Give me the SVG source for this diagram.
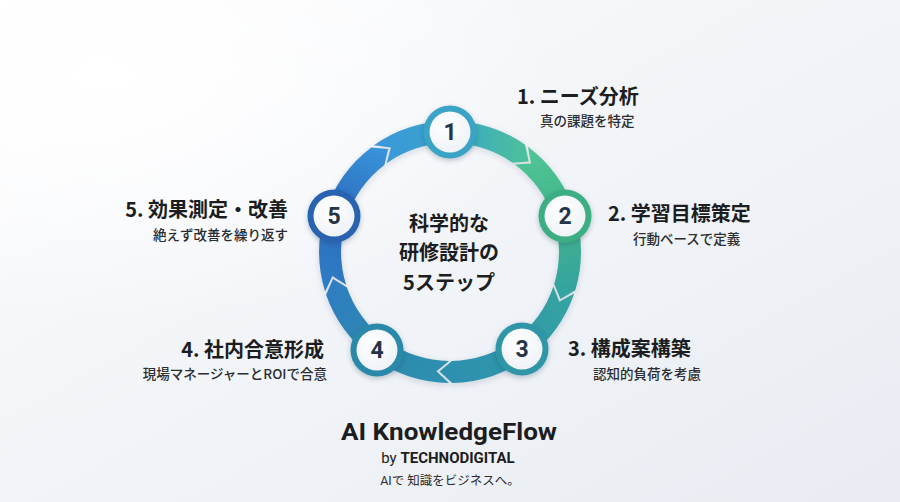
<svg xmlns="http://www.w3.org/2000/svg" width="900" height="502" viewBox="0 0 900 502">
<style>
.ttl{font-family:"Noto Sans CJK JP","Noto Sans",sans-serif;font-weight:700;font-size:20px;fill:#1c1d20}
.sub{font-family:"Noto Sans CJK JP","Noto Sans",sans-serif;font-weight:500;font-size:13.5px;fill:#2b2d31}
.num{font-family:Roboto,"Liberation Sans",sans-serif;font-weight:700;font-size:23px;fill:#253446;text-anchor:middle}
.ctr{font-family:"Noto Sans CJK JP","Noto Sans",sans-serif;font-weight:700;font-size:20px;fill:#1c1d20;text-anchor:middle}
.inner{fill:url(#wg)}
</style>
<defs>
<linearGradient id="bg" x1="0" y1="0" x2="1" y2="1">
<stop offset="0" stop-color="#ffffff"/>
<stop offset="0.3" stop-color="#f5f7fa"/>
<stop offset="1" stop-color="#e8ecf2"/>
</linearGradient>
<radialGradient id="glow" cx="0.12" cy="0.15" r="0.5">
<stop offset="0" stop-color="#ffffff" stop-opacity="1"/>
<stop offset="1" stop-color="#ffffff" stop-opacity="0"/>
</radialGradient>
<radialGradient id="wg" cx="0.4" cy="0.35" r="0.7">
<stop offset="0" stop-color="#ffffff"/>
<stop offset="1" stop-color="#eef2f6"/>
</radialGradient>
<linearGradient id="g1" gradientUnits="userSpaceOnUse" x1="374" y1="150" x2="528" y2="155">
<stop offset="0" stop-color="#3a96dc"/>
<stop offset="0.5" stop-color="#39a6c8"/>
<stop offset="1" stop-color="#4ec199"/>
</linearGradient>
<linearGradient id="g2" gradientUnits="userSpaceOnUse" x1="528" y1="150" x2="565" y2="292">
<stop offset="0" stop-color="#52c597"/>
<stop offset="0.5" stop-color="#42b58a"/>
<stop offset="1" stop-color="#35a3a0"/>
</linearGradient>
<linearGradient id="g3" gradientUnits="userSpaceOnUse" x1="570" y1="292" x2="445" y2="378">
<stop offset="0" stop-color="#36a4a0"/>
<stop offset="0.5" stop-color="#2f98a9"/>
<stop offset="1" stop-color="#2e8fb0"/>
</linearGradient>
<linearGradient id="g4" gradientUnits="userSpaceOnUse" x1="450" y1="378" x2="328" y2="288">
<stop offset="0" stop-color="#2e90b0"/>
<stop offset="0.5" stop-color="#2c89ad"/>
<stop offset="1" stop-color="#2f7dc2"/>
</linearGradient>
<linearGradient id="g5" gradientUnits="userSpaceOnUse" x1="330" y1="290" x2="388" y2="148">
<stop offset="0" stop-color="#2f7cc3"/>
<stop offset="0.5" stop-color="#2b6cbf"/>
<stop offset="1" stop-color="#3a96dc"/>
</linearGradient>
<filter id="sh" x="-30%" y="-30%" width="160%" height="160%">
<feDropShadow dx="0" dy="2" stdDeviation="2.5" flood-color="#1d3550" flood-opacity="0.28"/>
</filter>
<filter id="rsh" x="-20%" y="-20%" width="140%" height="140%">
<feDropShadow dx="0" dy="2" stdDeviation="3" flood-color="#1d3550" flood-opacity="0.15"/>
</filter>
</defs>
<rect width="900" height="502" fill="url(#bg)"/>
<rect width="900" height="502" fill="url(#glow)"/>

<g id="connectors" filter="url(#rsh)">
<path d="M373.9,145.3 A131,131 0 0 1 525.1,144.7 L528.7,161.4 L512.5,162.7 A109,109 0 0 0 386.7,163.3 L390.9,147.6 Z" fill="url(#g1)"/>
<path d="M527.9,146.7 A131,131 0 0 1 575.3,290.3 L560.5,298.9 L554.2,283.9 A109,109 0 0 0 514.8,164.4 L531.1,163.5 Z" fill="url(#g2)"/>
<path d="M574.2,293.6 A131,131 0 0 1 452.3,383.0 L439.5,371.5 L451.9,361.0 A109,109 0 0 0 553.4,286.6 L559.2,301.8 Z" fill="url(#g3)"/>
<path d="M448.9,383.0 A131,131 0 0 1 326.1,294.7 L333.1,279.0 L346.9,287.5 A109,109 0 0 0 449.1,361.0 L436.4,371.2 Z" fill="url(#g4)"/>
<path d="M325.1,291.4 A131,131 0 0 1 371.2,147.4 L388.2,149.1 L384.4,165.0 A109,109 0 0 0 346.1,284.8 L332.4,275.9 Z" fill="url(#g5)"/>
</g>

<g id="node1">
<circle cx="450" cy="132" r="26.5" fill="#3aa3c6" filter="url(#sh)"/>
<circle cx="450" cy="132" r="20.5" class="inner"/>
<text x="450" y="140" class="num">1</text>
</g>
<g id="node2">
<circle cx="565" cy="216" r="26.5" fill="#3cae83" filter="url(#sh)"/>
<circle cx="565" cy="216" r="20.5" class="inner"/>
<text x="565" y="224" class="num">2</text>
</g>
<g id="node3">
<circle cx="522" cy="349" r="26.5" fill="#2e96a7" filter="url(#sh)"/>
<circle cx="522" cy="349" r="20.5" class="inner"/>
<text x="522" y="357" class="num">3</text>
</g>
<g id="node4">
<circle cx="377" cy="350" r="26.5" fill="#2b88a9" filter="url(#sh)"/>
<circle cx="377" cy="350" r="20.5" class="inner"/>
<text x="377" y="358" class="num">4</text>
</g>
<g id="node5">
<circle cx="334" cy="216" r="26.5" fill="#2a62b2" filter="url(#sh)"/>
<circle cx="334" cy="216" r="20.5" class="inner"/>
<text x="334" y="224" class="num">5</text>
</g>

<g id="center">
<text class="ctr"><tspan x="449" y="230.5">科学的な</tspan><tspan x="449" y="260">研修設計の</tspan><tspan x="449" y="289.5">5ステップ</tspan></text>
</g>

<g id="label1">
<text x="517" y="104" class="ttl">1. ニーズ分析</text>
<text x="540" y="126" class="sub">真の課題を特定</text>
</g>
<g id="label2">
<text x="608" y="221" class="ttl">2. 学習目標策定</text>
<text x="633" y="244" class="sub">行動ベースで定義</text>
</g>
<g id="label3">
<text x="568" y="356" class="ttl">3. 構成案構築</text>
<text x="593" y="379" class="sub">認知的負荷を考慮</text>
</g>
<g id="label4">
<text x="324" y="357" class="ttl" text-anchor="end">4. 社内合意形成</text>
<text x="327" y="379" class="sub" text-anchor="end">現場マネージャーとROIで合意</text>
</g>
<g id="label5">
<text x="288" y="217" class="ttl" text-anchor="end">5. 効果測定・改善</text>
<text x="288" y="240" class="sub" text-anchor="end">絶えず改善を繰り返す</text>
</g>

<g id="brand">
<text x="449" y="440" font-family="Roboto,'Liberation Sans',sans-serif" font-weight="700" font-size="24" fill="#1c1d20" text-anchor="middle" textLength="216" lengthAdjust="spacingAndGlyphs">AI KnowledgeFlow</text>
<text x="448" y="463" font-family="Roboto,'Liberation Sans',sans-serif" font-size="15" fill="#1c1d20" text-anchor="middle">by <tspan font-weight="700">TECHNODIGITAL</tspan></text>
<text x="450" y="485" font-family="Roboto,'Noto Sans CJK JP',sans-serif" font-size="12.5" fill="#2b2d31" text-anchor="middle">AIで 知識をビジネスへ。</text>
</g>
</svg>
